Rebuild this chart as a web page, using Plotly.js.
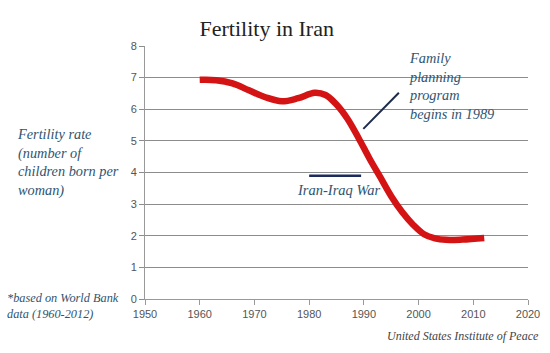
<!DOCTYPE html>
<html>
<head>
<meta charset="utf-8">
<script src="https://cdn.plot.ly/plotly-3.0.1.min.js"></script>
<style>html,body{margin:0;padding:0;background:#fff;}#chart{width:550px;height:353px;}</style>
</head>
<body>
<div id="chart"></div>
<script>
// Fertility rate (smoothed curve)
const years = [1960, 1963, 1966, 1969, 1972, 1975, 1978, 1981, 1983, 1985, 1987, 1989, 1991, 1993, 1995, 1997, 1999, 2001, 2003, 2005, 2008, 2012];
const fertility = [6.93, 6.92, 6.82, 6.6, 6.38, 6.25, 6.35, 6.52, 6.45, 6.15, 5.7, 5.1, 4.45, 3.85, 3.25, 2.75, 2.35, 2.05, 1.92, 1.87, 1.88, 1.93];
const warYears = [1980, 1989.5];
const warLevel = [3.9, 3.9];
const pointerX = [1989.9, 1996.4];
const pointerY = [5.38, 6.52];
const xTicks = [1950, 1960, 1970, 1980, 1990, 2000, 2010, 2020];
const yTicks = [0, 1, 2, 3, 4, 5, 6, 7, 8];

const serif = "Liberation Serif, DejaVu Serif, serif";
const teal = "#2f5470";

const traces = [
  {x: years, y: fertility, mode: "lines", line: {color: "#d41414", width: 6.5, shape: "spline", smoothing: 1}, hoverinfo: "skip"},
  {x: warYears, y: warLevel, mode: "lines", line: {color: "#1c2a5c", width: 2.5}, hoverinfo: "skip"},
  {x: pointerX, y: pointerY, mode: "lines", line: {color: "#1c2a4c", width: 2}, hoverinfo: "skip"}
];

const layout = {
  width: 550, height: 353,
  margin: {l: 145, r: 22, t: 46, b: 54},
  paper_bgcolor: "#fff", plot_bgcolor: "#fff",
  showlegend: false,
  title: {text: "Fertility in Iran", font: {family: serif, size: 22, color: "#222"}, x: 0.485, xanchor: "center", y: 0.92, yanchor: "middle"},
  xaxis: {range: [1950, 2020], tickvals: xTicks, ticktext: xTicks.map(String), showgrid: false, zeroline: false,
    showline: true, linecolor: "#999", linewidth: 1, ticks: "outside", ticklen: 5, tickcolor: "#999",
    tickfont: {family: "Liberation Sans, Arial, sans-serif", size: 11, color: "#555"}, fixedrange: true},
  yaxis: {range: [0, 8], tickvals: yTicks, ticktext: yTicks.map(String), showgrid: true, gridcolor: "#8c8c8c", gridwidth: 1,
    zeroline: false, showline: true, linecolor: "#999", linewidth: 1, ticks: "outside", ticklen: 5, tickcolor: "#8c8c8c",
    tickfont: {family: "Liberation Sans, Arial, sans-serif", size: 11, color: "#555"}, fixedrange: true},
  annotations: [
    {xref: "paper", yref: "paper", x: -0.34, y: 0.54, xanchor: "left", yanchor: "middle", align: "left", showarrow: false,
     text: "<i>Fertility rate<br>(number of<br>children born per<br>woman)</i>", font: {family: serif, size: 14.3, color: teal}},
    {xref: "paper", yref: "paper", x: -0.365, y: -0.026, xanchor: "left", yanchor: "middle", align: "left", showarrow: false,
     text: "<i>*based on World Bank<br>data (1960-2012)</i>", font: {family: serif, size: 12.3, color: teal}},
    {xref: "x", yref: "y", x: 1997.9, y: 6.72, xanchor: "left", yanchor: "middle", align: "left", showarrow: false,
     text: "<i>Family<br>planning<br>program<br>begins in 1989</i>", font: {family: serif, size: 14.3, color: teal}},
    {xref: "x", yref: "y", x: 1985.3, y: 3.45, xanchor: "center", yanchor: "middle", showarrow: false,
     text: "<i>Iran-Iraq War</i>", font: {family: serif, size: 14.5, color: teal}},
    {xref: "paper", yref: "paper", x: 1.033, y: -0.146, xanchor: "right", yanchor: "middle", showarrow: false,
     text: "<i>United States Institute of Peace</i>", font: {family: serif, size: 12, color: "#444"}}
  ]
};

Plotly.newPlot("chart", traces, layout, {displayModeBar: false, staticPlot: true});
</script>
</body>
</html>
